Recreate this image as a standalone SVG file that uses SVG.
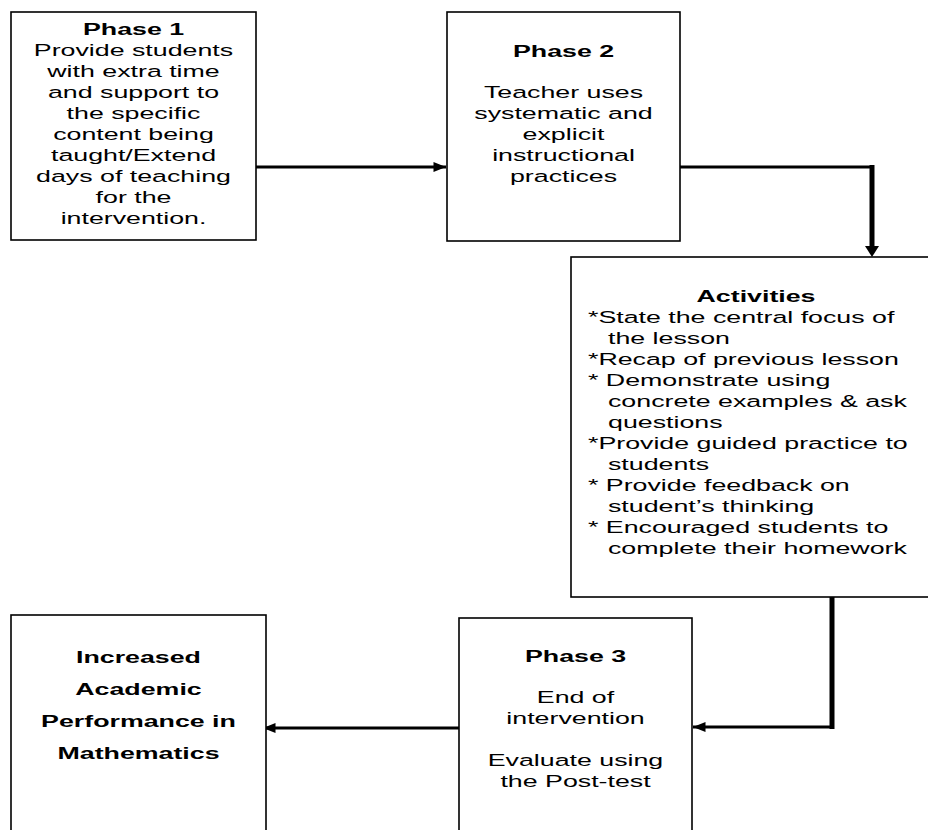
<svg xmlns="http://www.w3.org/2000/svg" width="928" height="830" viewBox="0 0 928 830">
<style>
.box{fill:#fff;stroke:#000;stroke-width:1.6}
.t{font-family:"Liberation Sans",Arial,sans-serif;font-size:17px;fill:#000;text-anchor:middle}
.l{font-family:"Liberation Sans",Arial,sans-serif;font-size:17px;fill:#000}
.b{font-weight:bold}
.c{fill:none;stroke:#000;stroke-width:3}
.v{fill:none;stroke:#000;stroke-width:5}
</style>
<defs>
<marker id="ah" viewBox="0 0 10 8" refX="10" refY="4" markerUnits="userSpaceOnUse" markerWidth="13" markerHeight="10" orient="auto">
<path d="M0,0 L10,4 L0,8 Z" fill="#000"/>
</marker>
</defs>
<rect width="928" height="830" fill="#fff"/>
<g id="connectors">
<line class="c" x1="256" y1="167" x2="446" y2="167" marker-end="url(#ah)"/>
<polyline class="c" points="680,167 872,167"/>
<line class="v" x1="872" y1="165" x2="872" y2="248"/>
<path d="M865,246 L879,246 L872,257 Z" fill="#000"/>
<line class="v" x1="832" y1="597" x2="832" y2="729"/>
<polyline class="c" points="834,727 693,727" marker-end="url(#ah)"/>
<line class="c" x1="459" y1="728" x2="263" y2="728" marker-end="url(#ah)"/>
</g>
<g id="phase1">
<rect class="box" x="11" y="12" width="245" height="228"/>
<g transform="translate(133.5,0) scale(1.575,1)">
<text class="t b" x="0" y="35">Phase 1</text>
<text class="t" x="0" y="56">Provide students</text>
<text class="t" x="0" y="77">with extra time</text>
<text class="t" x="0" y="98">and support to</text>
<text class="t" x="0" y="119">the specific</text>
<text class="t" x="0" y="140">content being</text>
<text class="t" x="0" y="161">taught/Extend</text>
<text class="t" x="0" y="182">days of teaching</text>
<text class="t" x="0" y="203">for the</text>
<text class="t" x="0" y="224">intervention.</text>
</g>
</g>
<g id="phase2">
<rect class="box" x="447" y="12" width="233" height="229"/>
<g transform="translate(563.5,0) scale(1.575,1)">
<text class="t b" x="0" y="57">Phase 2</text>
<text class="t" x="0" y="98">Teacher uses</text>
<text class="t" x="0" y="119">systematic and</text>
<text class="t" x="0" y="140">explicit</text>
<text class="t" x="0" y="161">instructional</text>
<text class="t" x="0" y="182">practices</text>
</g>
</g>
<g id="activities">
<rect class="box" x="571" y="257" width="380" height="340"/>
<g transform="translate(756,0) scale(1.575,1)">
<text class="t b" x="0" y="302">Activities</text>
</g>
<g transform="translate(588,0) scale(1.575,1)">
<text class="l" x="0" y="323">*State the central focus of</text>
<text class="l" x="12.7" y="344">the lesson</text>
<text class="l" x="0" y="365">*Recap of previous lesson</text>
<text class="l" x="0" y="386">* Demonstrate using</text>
<text class="l" x="12.7" y="407">concrete examples &amp; ask</text>
<text class="l" x="12.7" y="428">questions</text>
<text class="l" x="0" y="449">*Provide guided practice to</text>
<text class="l" x="12.7" y="470">students</text>
<text class="l" x="0" y="491">* Provide feedback on</text>
<text class="l" x="12.7" y="512">student’s thinking</text>
<text class="l" x="0" y="533">* Encouraged students to</text>
<text class="l" x="12.7" y="554">complete their homework</text>
</g>
</g>
<g id="phase3">
<rect class="box" x="459" y="618" width="233" height="230"/>
<g transform="translate(575.5,0) scale(1.575,1)">
<text class="t b" x="0" y="662">Phase 3</text>
<text class="t" x="0" y="703">End of</text>
<text class="t" x="0" y="724">intervention</text>
<text class="t" x="0" y="766">Evaluate using</text>
<text class="t" x="0" y="787">the Post-test</text>
</g>
</g>
<g id="outcome">
<rect class="box" x="11" y="615" width="255" height="233"/>
<g transform="translate(138.5,0) scale(1.575,1)">
<text class="t b" x="0" y="663">Increased</text>
<text class="t b" x="0" y="695">Academic</text>
<text class="t b" x="0" y="727">Performance in</text>
<text class="t b" x="0" y="759">Mathematics</text>
</g>
</g>
</svg>
